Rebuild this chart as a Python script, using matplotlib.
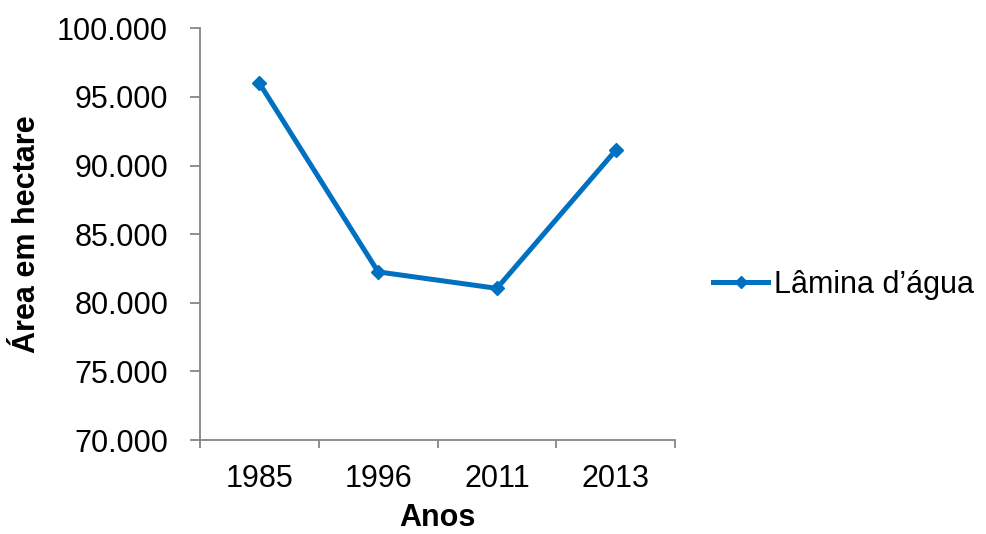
import matplotlib
matplotlib.use("Agg")
import matplotlib.pyplot as plt
from matplotlib.ticker import FuncFormatter, FixedLocator, NullFormatter
from matplotlib.lines import Line2D

plt.rcParams['font.family'] = ['Liberation Sans', 'DejaVu Sans']

anos = ["1985", "1996", "2011", "2013"]
area_ha = [96000, 82250, 81050, 91100]
serie = "Lâmina d’água"
y_ticks = [70000, 75000, 80000, 85000, 90000, 95000, 100000]

cor = "#0070C0"
cinza = "#868686"
fs = 22

fig = plt.figure(figsize=(9.86, 5.34), dpi=100)
ax = fig.add_axes([200/986, 1 - 440/534, 475/986, (440 - 28.3)/534])

x = list(range(len(anos)))
ax.plot(x, area_ha, color=cor, linewidth=3.6, marker="D", markersize=7,
        solid_joinstyle="round", solid_capstyle="round")

ax.set_xlim(-0.5, len(anos) - 0.5)
ax.set_ylim(y_ticks[0], y_ticks[-1])
ax.set_yticks(y_ticks)
ax.yaxis.set_major_formatter(FuncFormatter(lambda v, p: f"{int(v):,}".replace(",", ".")))

# category labels centred, tick marks at category boundaries
ax.set_xticks(x)
ax.set_xticklabels(anos)
ax.tick_params(axis="x", which="major", length=0, pad=17, labelsize=fs)
ax.xaxis.set_minor_locator(FixedLocator([i - 0.5 for i in range(len(anos) + 1)]))
ax.xaxis.set_minor_formatter(NullFormatter())
ax.tick_params(axis="x", which="minor", length=6, width=1.3, color=cinza, direction="out")
ax.tick_params(axis="y", length=7, width=1.3, color=cinza, direction="out", pad=16, labelsize=fs)

for s in ["top", "right"]:
    ax.spines[s].set_visible(False)
for s in ["left", "bottom"]:
    ax.spines[s].set_color(cinza)
    ax.spines[s].set_linewidth(1.3)

ax.set_xlabel("Anos", fontsize=fs, fontweight="bold", labelpad=7)
ax.set_ylabel("Área em hectare", fontsize=fs, fontweight="bold", labelpad=11)

handle = Line2D([], [], color=cor, linewidth=3.6, marker="D", markersize=6)
fig.legend([handle], [serie], loc="center left", bbox_to_anchor=(713/986, 1 - 285/534),
           frameon=False, fontsize=fs, handlelength=1.8, handletextpad=0.2,
           borderaxespad=0, borderpad=0)

fig.savefig("out.png", dpi=100)
